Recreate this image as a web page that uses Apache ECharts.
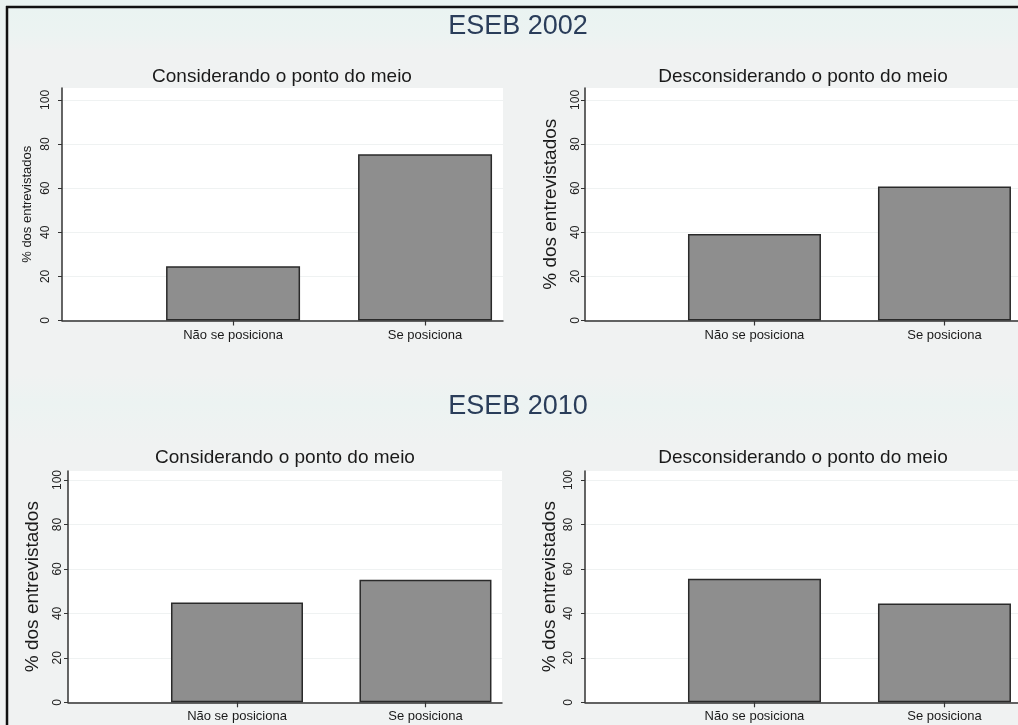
<!DOCTYPE html>
<html>
<head>
<meta charset="utf-8">
<script src="https://cdn.jsdelivr.net/npm/echarts@6/dist/echarts.min.js"></script>
<style>
html,body{margin:0;padding:0;background:#f0f2f2;}
#c{width:1018px;height:725px;}
</style>
</head>
<body>
<div id="c"></div>
<script>
// ---- data ----
const categories = ['Não se posiciona', 'Se posiciona'];
const yTicks = [0, 20, 40, 60, 80, 100];
const mainTitles = ['ESEB 2002', 'ESEB 2010'];
const panelTitles = ['Considerando o ponto do meio', 'Desconsiderando o ponto do meio'];
const yName = '% dos entrevistados';
const eseb2002Considerando = [24.6, 75.4];
const eseb2002Desconsiderando = [39.2, 60.8];
const eseb2010Considerando = [44.9, 55.1];
const eseb2010Desconsiderando = [55.6, 44.4];

// ---- layout ----
const FONT = "'Liberation Sans', Arial, Helvetica, sans-serif";
const panels = [
  {data: eseb2002Considerando, title: panelTitles[0], grid: {left: 62, top: 88, width: 441, height: 232.5},
   yMax: 105.4, xMin: 0.109, xMax: 2.406, barW: 134, nameSize: 13, nameGap: 28, labelMargin: 10, titleX: 282, titleY: 67},
  {data: eseb2002Desconsiderando, title: panelTitles[1], grid: {left: 585, top: 88, width: 433, height: 232.5},
   yMax: 105.4, xMin: 0.108, xMax: 2.387, barW: 133, nameSize: 19, nameGap: 25, labelMargin: 3, titleX: 803, titleY: 67},
  {data: eseb2010Considerando, title: panelTitles[0], grid: {left: 68, top: 471, width: 434, height: 231.3},
   yMax: 104.05, xMin: 0.1034, xMax: 2.406, barW: 132, nameSize: 19, nameGap: 26, labelMargin: 4, titleX: 285, titleY: 448},
  {data: eseb2010Desconsiderando, title: panelTitles[1], grid: {left: 585, top: 471, width: 433, height: 231.3},
   yMax: 104.05, xMin: 0.108, xMax: 2.387, barW: 133, nameSize: 19, nameGap: 26, labelMargin: 10, titleX: 803, titleY: 448}
];

const catPos = categories.map((c, i) => i + 1);

const option = {
  backgroundColor: '#f0f2f2',
  animation: false,
  title: [
    {text: mainTitles[0], left: 518, top: 13, textAlign: 'center', padding: 0,
     textStyle: {fontFamily: FONT, fontSize: 27, fontWeight: 'normal', color: '#2a3d5a'}},
    {text: mainTitles[1], left: 518, top: 393, textAlign: 'center', padding: 0,
     textStyle: {fontFamily: FONT, fontSize: 27, fontWeight: 'normal', color: '#2a3d5a'}}
  ].concat(panels.map(p => ({
    text: p.title, left: p.titleX, top: p.titleY, textAlign: 'center', padding: 0,
    textStyle: {fontFamily: FONT, fontSize: 19, fontWeight: 'normal', color: '#1a1a1a'}
  }))),
  graphic: [
    {type: 'rect', shape: {x: 0, y: 0, width: 1018, height: 50}, z: -10,
     style: {fill: new echarts.graphic.LinearGradient(0, 0, 0, 1, [{offset: 0, color: '#e9f3f1'}, {offset: 0.7, color: '#ecf3f2'}, {offset: 1, color: '#f0f2f2'}])}},
    {type: 'rect', shape: {x: 0, y: 375, width: 1018, height: 70}, z: -10,
     style: {fill: new echarts.graphic.LinearGradient(0, 0, 0, 1, [{offset: 0, color: '#f0f2f2'}, {offset: 0.4, color: '#ecf3f2'}, {offset: 1, color: '#f0f2f2'}])}},
    {type: 'line', shape: {x1: 6, y1: 7, x2: 1018, y2: 7}, style: {stroke: '#111', lineWidth: 2.5}, z: 100},
    {type: 'line', shape: {x1: 7, y1: 6, x2: 7, y2: 725}, style: {stroke: '#111', lineWidth: 2.5}, z: 100}
  ],
  grid: panels.map(p => Object.assign({show: true, backgroundColor: '#ffffff', borderWidth: 0}, p.grid)),
  xAxis: panels.map((p, i) => ({
    type: 'value', gridIndex: i, min: p.xMin, max: p.xMax,
    axisLine: {show: true, lineStyle: {color: '#333', width: 1.5}},
    axisTick: {show: true, length: 5, customValues: catPos, lineStyle: {color: '#333', width: 1.2}},
    axisLabel: {show: true, customValues: catPos, margin: 8, fontFamily: FONT, fontSize: 13, color: '#1a1a1a',
      formatter: v => categories[Math.round(v) - 1] || ''},
    splitLine: {show: false}
  })),
  yAxis: panels.map((p, i) => ({
    type: 'value', gridIndex: i, min: 0, max: p.yMax,
    name: yName, nameLocation: 'middle', nameGap: p.nameGap,
    nameTextStyle: {fontFamily: FONT, fontSize: p.nameSize, color: '#1a1a1a'},
    axisLine: {show: true, lineStyle: {color: '#333', width: 1.5}},
    axisTick: {show: true, length: 4, customValues: yTicks, lineStyle: {color: '#333', width: 1}},
    axisLabel: {show: true, customValues: yTicks, rotate: 90, margin: p.labelMargin, fontFamily: FONT, fontSize: 12, color: '#222'},
    splitLine: {show: true, lineStyle: {color: '#eff2f2', width: 1}}
  })),
  series: panels.map((p, i) => ({
    type: 'bar', xAxisIndex: i, yAxisIndex: i, barWidth: p.barW,
    data: p.data.map((v, k) => [catPos[k], v]),
    itemStyle: {color: '#8e8e8e', borderColor: '#2a2a2a', borderWidth: 1.5},
    silent: true
  }))
};

const chart = echarts.init(document.getElementById('c'), null, {renderer: 'canvas'});
chart.setOption(option);
</script>
</body>
</html>
